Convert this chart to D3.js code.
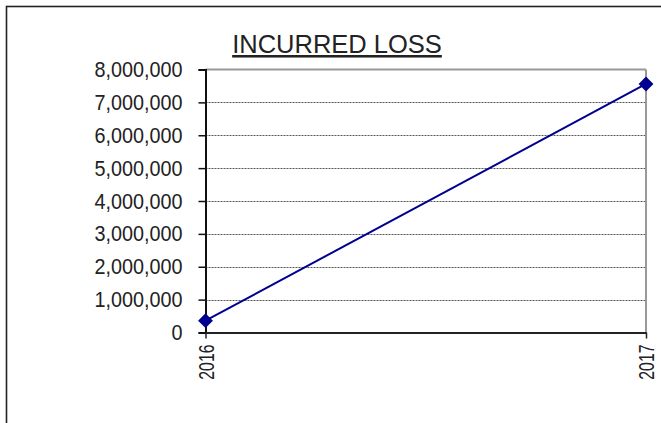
<!DOCTYPE html>
<html>
<head>
<meta charset="utf-8">
<script src="https://cdn.jsdelivr.net/npm/d3@7"></script>
<style>
  html, body { margin: 0; padding: 0; background: #fff; }
  svg { display: block; }
</style>
</head>
<body>
<div id="chart"></div>
<script>
"use strict";

var years = ["2016", "2017"];
var incurredLoss = [360000, 7560000];
var yTicks = [0, 1000000, 2000000, 3000000, 4000000, 5000000, 6000000, 7000000, 8000000];
var chartTitle = "INCURRED LOSS";

var width = 661, height = 423;
var plot = {left: 205.5, right: 646, top: 69.5, bottom: 332.5};
var fontFamily = "'Liberation Sans', Arial, sans-serif";

var svg = d3.select("#chart").append("svg")
    .attr("width", width)
    .attr("height", height);

// outer chart frame (runs off right/bottom edge)
svg.append("rect")
    .attr("x", 6.5).attr("y", 6.5)
    .attr("width", 720).attr("height", 500)
    .attr("fill", "none")
    .attr("stroke", "#222")
    .attr("stroke-width", 1.6);

var x = d3.scalePoint()
    .domain(years)
    .range([plot.left, plot.right])
    .padding(0);

var y = d3.scaleLinear()
    .domain([0, 8000000])
    .range([plot.bottom, plot.top]);

// gridlines
svg.append("g")
    .selectAll("line")
    .data(yTicks.filter(function (d) { return d > 0 && d < 8000000; }))
    .enter().append("line")
    .attr("x1", plot.left).attr("x2", plot.right)
    .attr("y1", function (d) { return Math.round(y(d)) + 0.5; })
    .attr("y2", function (d) { return Math.round(y(d)) + 0.5; })
    .attr("stroke", "#555")
    .attr("stroke-dasharray", "2,1");

// top and right plot border
svg.append("line")
    .attr("x1", plot.left).attr("x2", plot.right)
    .attr("y1", plot.top).attr("y2", plot.top)
    .attr("stroke", "#999").attr("stroke-width", 2);
svg.append("line")
    .attr("x1", plot.right).attr("x2", plot.right)
    .attr("y1", plot.top).attr("y2", plot.bottom)
    .attr("stroke", "#999").attr("stroke-width", 2);

// y axis
var yAxis = svg.append("g")
    .attr("transform", "translate(" + plot.left + ",0)")
    .call(d3.axisLeft(y)
        .tickValues(yTicks)
        .tickSize(7)
        .tickFormat(d3.format(",")));
yAxis.select(".domain").attr("stroke", "#111").attr("stroke-width", 2);
yAxis.selectAll(".tick line").attr("stroke", "#111").attr("stroke-width", 1.5);
yAxis.selectAll(".tick text")
    .attr("x", 0)
    .attr("transform", "translate(-23,0) scale(0.9,1)")
    .attr("fill", "#222")
    .style("font-family", fontFamily)
    .style("font-size", "22px");

// x axis
var xAxis = svg.append("g")
    .attr("transform", "translate(0," + plot.bottom + ")")
    .call(d3.axisBottom(x).tickSize(6).tickSizeOuter(0));
xAxis.select(".domain").attr("stroke", "#222").attr("stroke-width", 2);
xAxis.selectAll(".tick line").attr("stroke", "#222").attr("stroke-width", 1.5);
xAxis.selectAll(".tick text")
    .attr("fill", "#222")
    .attr("transform", "rotate(-90) translate(-12,0) scale(0.72,1)")
    .attr("x", 0)
    .attr("y", 0)
    .attr("dy", "0.36em")
    .style("text-anchor", "end")
    .style("font-family", fontFamily)
    .style("font-size", "22px");

// title
svg.append("text")
    .attr("x", 337)
    .attr("y", 53)
    .attr("text-anchor", "middle")
    .attr("fill", "#222")
    .style("font-family", fontFamily)
    .style("font-size", "25.5px")
    .style("text-decoration", "underline")
    .text(chartTitle);

// series
var data = years.map(function (d, i) { return {year: d, value: incurredLoss[i]}; });

svg.append("path")
    .datum(data)
    .attr("fill", "none")
    .attr("stroke", "#000090")
    .attr("stroke-width", 2)
    .attr("d", d3.line()
        .x(function (d) { return x(d.year); })
        .y(function (d) { return y(d.value); }));

svg.append("g")
    .selectAll("path")
    .data(data)
    .enter().append("path")
    .attr("d", d3.symbol().type(d3.symbolSquare).size(110))
    .attr("transform", function (d) {
        return "translate(" + x(d.year) + "," + y(d.value) + ") rotate(45)";
    })
    .attr("fill", "#000090");
</script>
</body>
</html>
